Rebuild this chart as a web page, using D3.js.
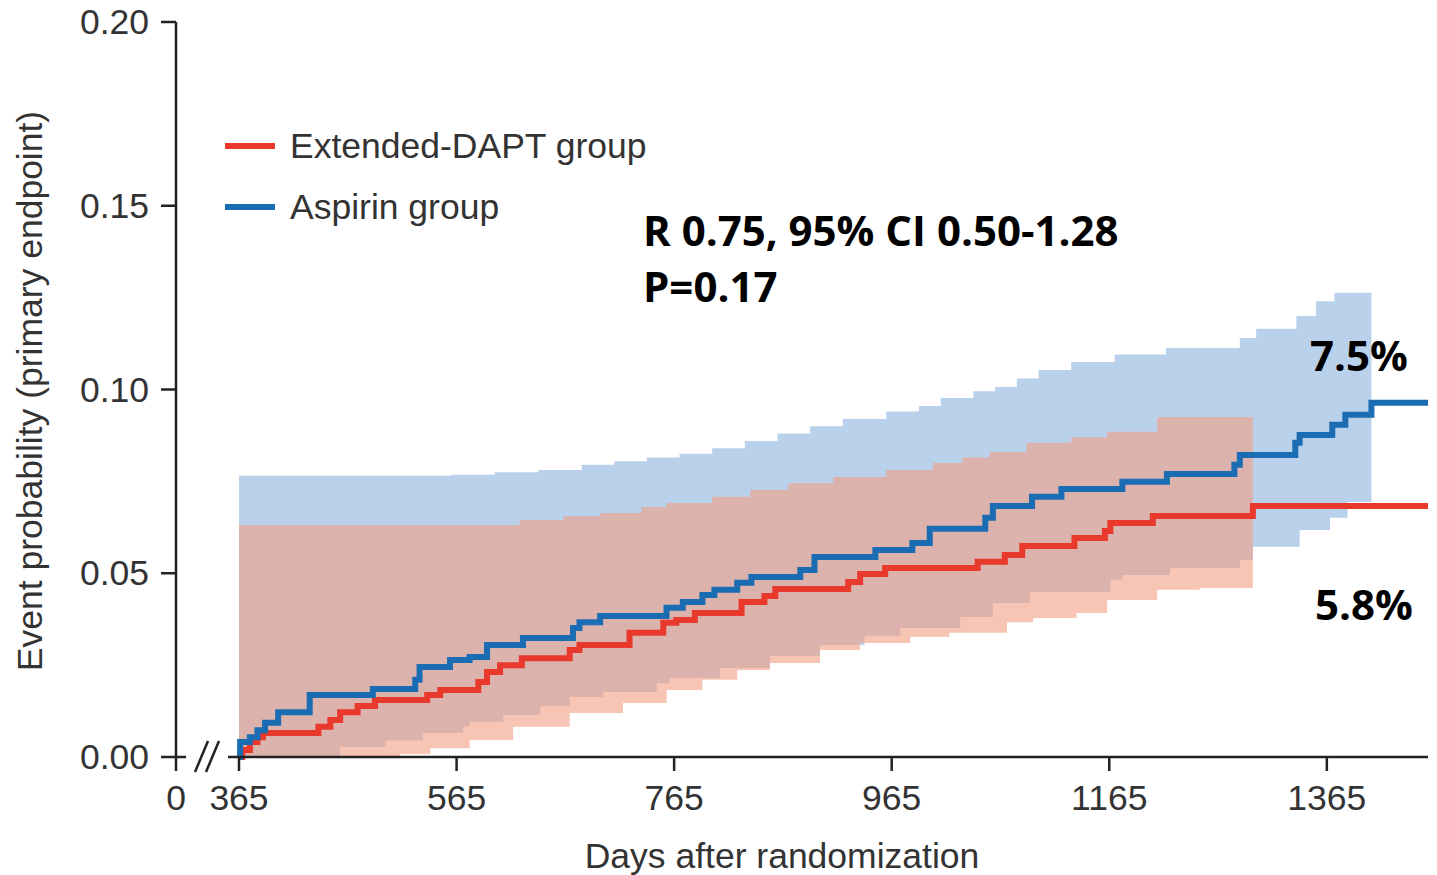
<!DOCTYPE html>
<html>
<head>
<meta charset="utf-8">
<title>Event probability</title>
<script src="https://cdnjs.cloudflare.com/ajax/libs/d3/7.8.5/d3.min.js"></script>
<style>
    body { margin: 0; background: #fff; }
    svg { display: block; }
</style>
</head>
<body>
<svg id="chart"></svg>
<script>
// tick values
const xTicks = [0, 365, 565, 765, 965, 1165, 1365];
const yTicks = [0, 0.05, 0.10, 0.15, 0.20];
const endDay = 1458;

// step curves [day, probability]
const aspirinSteps = [
    [365, 0], [366, .0041], [375, .0054], [382, .0073], [389, .0093], [401, .0122],
    [430, .0169], [488, .0185], [527, .0210], [531, .0245], [559, .0264], [577, .0272],
    [593, .0305], [626, .0324], [672, .0351], [678, .0367], [697, .0384], [758, .0406],
    [773, .0422], [791, .0441], [802, .0455], [823, .0474], [836, .0490], [881, .0509],
    [894, .0544], [950, .0563], [984, .0582], [1000, .0621], [1051, .0651], [1058, .0683],
    [1094, .0708], [1121, .0729], [1177, .0749], [1218, .0770], [1280, .0795], [1285, .0822],
    [1336, .0855], [1340, .0876], [1370, .0904], [1382, .0931], [1406, .0964]
];
const daptSteps = [
    [365, 0], [368, .0019], [375, .0041], [382, .0054], [387, .0065], [438, .0082],
    [449, .0101], [458, .0122], [474, .0139], [490, .0155], [538, .0169], [550, .0182],
    [585, .0204], [593, .0231], [605, .0250], [625, .0269], [669, .0291], [678, .0305],
    [724, .0338], [755, .0365], [767, .0373], [784, .0392], [827, .0422], [848, .0438],
    [858, .0457], [925, .0476], [936, .0498], [959, .0514], [1044, .0531], [1069, .0550],
    [1085, .0574], [1133, .0596], [1161, .0615], [1166, .0637], [1205, .0656], [1297, .0683]
];

// 95% confidence bands
const aspirinUpper = [
    [365, .0765], [560, .0768], [600, .0775], [640, .0781], [680, .0795], [710, .0805],
    [740, .0815], [770, .0825], [800, .0840], [830, .0860], [860, .0880], [890, .0900],
    [920, .0920], [960, .0940], [990, .0955], [1010, .0977], [1040, .0995], [1060, .1007],
    [1080, .1030], [1100, .1053], [1130, .1075], [1170, .1095], [1217, .1113], [1285, .1140],
    [1300, .1165], [1337, .1200], [1355, .1240], [1372, .1263]
];
const aspirinLower = [
    [365, 0], [458, .0027], [500, .0045], [534, .0065], [571, .0082], [577, .0095],
    [608, .0114], [642, .0139], [669, .0163], [700, .0177], [749, .0201], [761, .0215],
    [807, .0242], [853, .0275], [899, .0305], [940, .0330], [973, .0351], [1028, .0381],
    [1058, .0419], [1092, .0449], [1166, .0482], [1177, .0495], [1221, .0514], [1285, .0536],
    [1297, .0572], [1340, .0618], [1368, .0651], [1384, .0694]
];
const aspirinBandEnd = 1406;

const daptUpper = [
    [365, .0631], [623, .0645], [663, .0655], [697, .0664], [735, .0680], [758, .0691],
    [800, .0708], [835, .0727], [870, .0745], [911, .0762], [960, .0781], [1003, .0800],
    [1030, .0815], [1055, .0830], [1089, .0855], [1130, .0870], [1163, .0885], [1209, .0925]
];
const daptLower = [
    [365, 0], [513, .0008], [541, .0024], [577, .0046], [617, .0082], [669, .0120],
    [718, .0147], [758, .0182], [791, .0210], [823, .0237], [853, .0256], [899, .0291],
    [936, .0310], [982, .0327], [1018, .0338], [1071, .0367], [1095, .0378], [1135, .0392],
    [1163, .0427], [1209, .0455], [1248, .0460]
];
const daptBandEnd = 1297;

const colors = {
    dapt: '#e8392c',
    aspirin: '#1b6db3',
    aspirinBand: 'rgb(186,209,236)',
    daptBand: 'rgb(243,157,130)'
};

const width = 1437, height = 875;
const svg = d3.select('#chart').attr('width', width).attr('height', height);

// broken x axis: 0 sits left of the break, then 365 onwards
const x = d3.scaleLinear().domain([0, 365, endDay]).range([176, 239, 1428]);
const y = d3.scaleLinear().domain([0, 0.20]).range([757, 22]);

function stepAt(arr, d) {
    let v = arr[0][1];
    for (const p of arr) if (p[0] <= d) v = p[1];
    return v;
}

function bandData(upper, lower, end) {
    const days = Array.from(new Set(upper.map(p => p[0]).concat(lower.map(p => p[0]), [end]))).sort((a, b) => a - b);
    return days.map(d => ({ day: d, lo: stepAt(lower, d), hi: stepAt(upper, d) }));
}

const area = d3.area()
    .curve(d3.curveStepAfter)
    .x(d => x(d.day))
    .y0(d => y(d.lo))
    .y1(d => y(d.hi));

svg.append('path')
    .datum(bandData(aspirinUpper, aspirinLower, aspirinBandEnd))
    .attr('d', area)
    .attr('fill', colors.aspirinBand);

svg.append('path')
    .datum(bandData(daptUpper, daptLower, daptBandEnd))
    .attr('d', area)
    .attr('fill', colors.daptBand)
    .attr('fill-opacity', 0.6);

const line = d3.line()
    .curve(d3.curveStepAfter)
    .x(d => x(d[0]))
    .y(d => y(d[1]));

[[daptSteps, colors.dapt], [aspirinSteps, colors.aspirin]].forEach(([steps, c]) => {
    svg.append('path')
        .datum(steps.concat([[endDay, steps[steps.length - 1][1]]]))
        .attr('d', line)
        .attr('fill', 'none')
        .attr('stroke', c)
        .attr('stroke-width', 6);
});

// axes
const axisColor = '#222';
const tickFont = '35.5px "Liberation Sans", Arial, sans-serif';

const yAxis = svg.append('g');
yAxis.append('line')
    .attr('x1', 176).attr('x2', 176)
    .attr('y1', y(0.20)).attr('y2', y(0))
    .attr('stroke', axisColor).attr('stroke-width', 2.5);
yAxis.selectAll('.ytick')
    .data(yTicks)
    .join('line')
    .attr('x1', 161).attr('x2', 176)
    .attr('y1', d => y(d)).attr('y2', d => y(d))
    .attr('stroke', axisColor).attr('stroke-width', 2.5);
yAxis.selectAll('text')
    .data(yTicks)
    .join('text')
    .attr('x', 149)
    .attr('y', d => y(d) + 12)
    .attr('text-anchor', 'end')
    .style('font', tickFont)
    .attr('fill', '#333')
    .text(d => d3.format('.2f')(d));

const xAxis = svg.append('g');
xAxis.append('line')
    .attr('x1', 176).attr('x2', 186)
    .attr('y1', y(0)).attr('y2', y(0))
    .attr('stroke', axisColor).attr('stroke-width', 2.5);
xAxis.append('line')
    .attr('x1', 228).attr('x2', x(endDay))
    .attr('y1', y(0)).attr('y2', y(0))
    .attr('stroke', axisColor).attr('stroke-width', 2.5);
// break marks
[0, 11].forEach(off => {
    xAxis.append('line')
        .attr('x1', 195 + off).attr('y1', 772)
        .attr('x2', 208 + off).attr('y2', 741)
        .attr('stroke', axisColor).attr('stroke-width', 2.5);
});
xAxis.selectAll('.xtick')
    .data(xTicks)
    .join('line')
    .attr('x1', d => x(d)).attr('x2', d => x(d))
    .attr('y1', y(0)).attr('y2', 771)
    .attr('stroke', axisColor).attr('stroke-width', 2.5);
xAxis.selectAll('text')
    .data(xTicks)
    .join('text')
    .attr('x', d => x(d))
    .attr('y', 810)
    .attr('text-anchor', 'middle')
    .style('font', tickFont)
    .attr('fill', '#333')
    .text(d => d);

// axis titles
svg.append('text')
    .attr('x', 782).attr('y', 868)
    .attr('text-anchor', 'middle')
    .style('font', tickFont)
    .attr('fill', '#333')
    .text('Days after randomization');
svg.append('text')
    .attr('transform', 'translate(42,391) rotate(-90)')
    .attr('text-anchor', 'middle')
    .style('font', tickFont)
    .attr('fill', '#333')
    .text('Event probability (primary endpoint)');

// legend
const legendItems = [
    { label: 'Extended-DAPT group', color: colors.dapt, y: 146 },
    { label: 'Aspirin group', color: colors.aspirin, y: 207 }
];
const legend = svg.append('g');
legend.selectAll('line')
    .data(legendItems)
    .join('line')
    .attr('x1', 225).attr('x2', 275)
    .attr('y1', d => d.y).attr('y2', d => d.y)
    .attr('stroke', d => d.color)
    .attr('stroke-width', 6);
legend.selectAll('text')
    .data(legendItems)
    .join('text')
    .attr('x', 290)
    .attr('y', d => d.y + 12)
    .style('font', tickFont)
    .attr('fill', '#333')
    .text(d => d.label);

// annotations
const boldFont = 'bold 42px "Open Sans", "DejaVu Sans", sans-serif';
const notes = [
    { text: 'R 0.75, 95% CI 0.50-1.28', x: 643, y: 246 },
    { text: 'P=0.17', x: 643, y: 302 },
    { text: '7.5%', x: 1310, y: 371 },
    { text: '5.8%', x: 1315, y: 620 }
];
svg.selectAll('.note')
    .data(notes)
    .join('text')
    .attr('class', 'note')
    .attr('x', d => d.x)
    .attr('y', d => d.y)
    .style('font', boldFont)
    .attr('fill', '#000')
    .text(d => d.text);
</script>
</body>
</html>
